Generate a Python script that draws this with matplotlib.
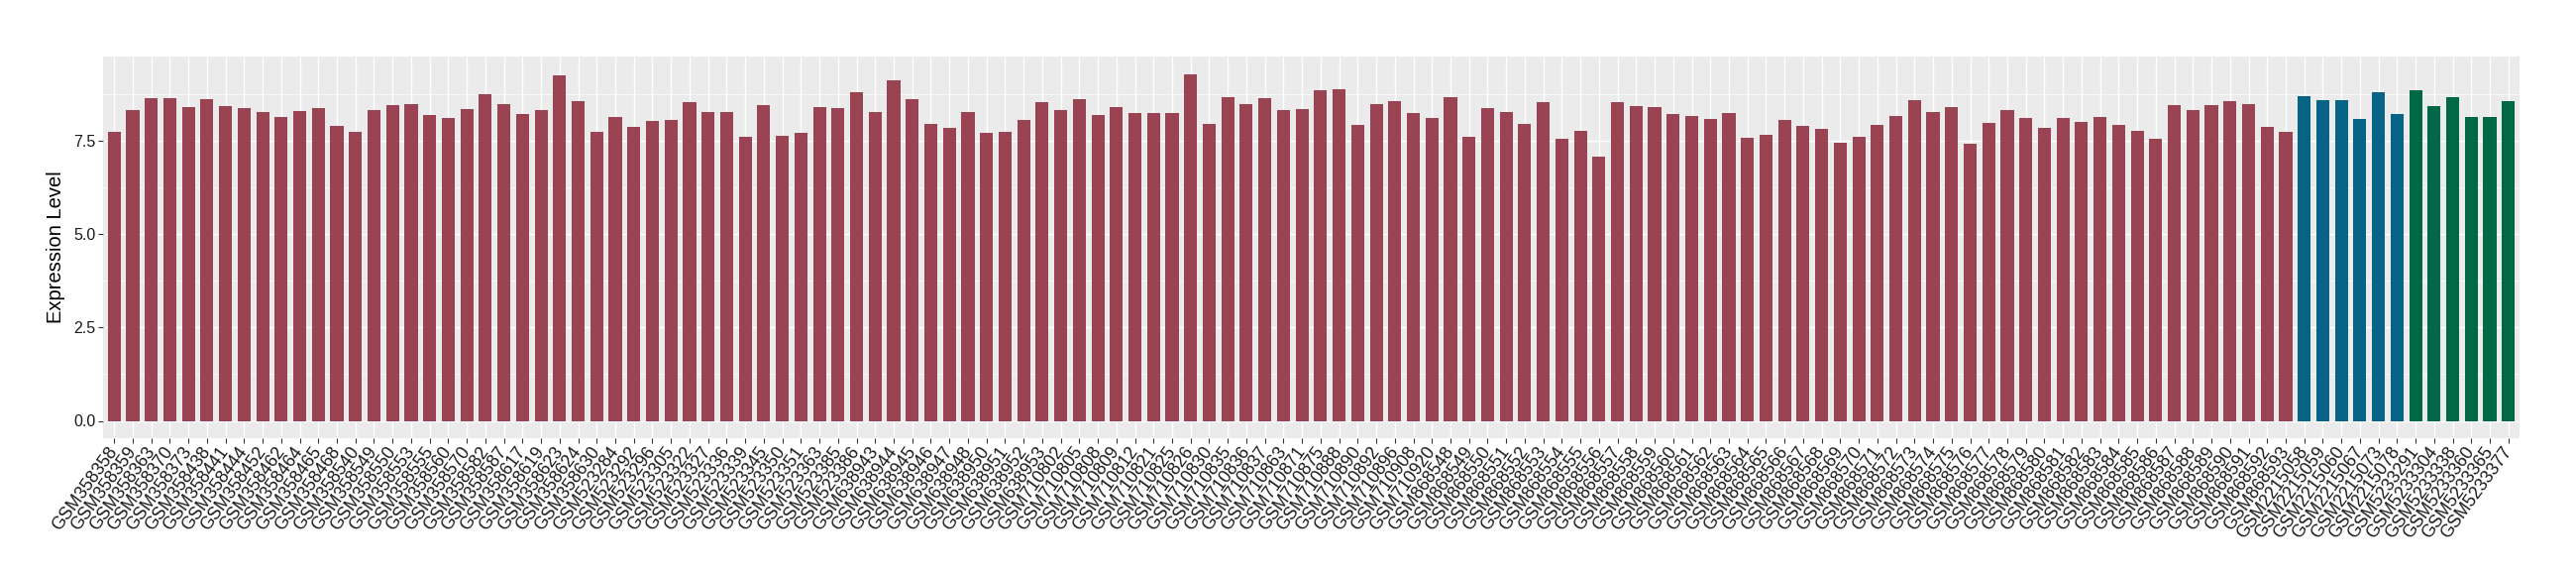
import matplotlib
matplotlib.use('Agg')
import matplotlib.pyplot as plt
import numpy as np

# sample ids per series
ids_358 = ['358358', '358359', '358363', '358370', '358373', '358438', '358441', '358444',
           '358452', '358462', '358464', '358465', '358468', '358540', '358549', '358550',
           '358553', '358555', '358560', '358570', '358582', '358587', '358617', '358619',
           '358623', '358624', '358630']
ids_523 = ['523284', '523292', '523296', '523305', '523322', '523327', '523336', '523339',
           '523345', '523350', '523351', '523363', '523385', '523386']
ids_638 = ['638943', '638944', '638945', '638946', '638947', '638948', '638950', '638951',
           '638952', '638953']
ids_710 = ['710802', '710805', '710808', '710809', '710812', '710821', '710825', '710826',
           '710830', '710835', '710836', '710837', '710863', '710871', '710875', '710888',
           '710890', '710892', '710896', '710908', '710920']
ids_868 = [str(k) for k in range(868548, 868594)]
ids_blue = ['2215058', '2215059', '2215060', '2215067', '2215073', '2215078']
ids_green = ['5233291', '5233304', '5233338', '5233360', '5233365', '5233377']

red_labels = ['GSM' + s for s in ids_358 + ids_523 + ids_638 + ids_710 + ids_868]
blue_labels = ['GSM' + s for s in ids_blue]
green_labels = ['GSM' + s for s in ids_green]

red_values = [7.74, 8.33, 8.65, 8.65, 8.42, 8.62, 8.43, 8.38, 8.28, 8.14, 8.30, 8.38,
              7.90, 7.75, 8.33, 8.45, 8.48, 8.20, 8.12, 8.35, 8.75, 8.48, 8.22, 8.32,
              9.25, 8.58, 7.75,
              8.15, 7.88, 8.03, 8.07, 8.53, 8.27, 8.28, 7.62, 8.47, 7.65, 7.73, 8.42,
              8.38, 8.80,
              8.27, 9.13, 8.63, 7.97, 7.85, 8.28, 7.72, 7.74, 8.07, 8.53,
              8.32, 8.62, 8.20, 8.42, 8.25, 8.25, 8.25, 9.30, 7.97, 8.67, 8.50, 8.65,
              8.33, 8.35, 8.87, 8.90, 7.93, 8.50, 8.57, 8.25, 8.12,
              8.68, 7.62, 8.38, 8.27, 7.97, 8.53, 7.57, 7.77, 7.08, 8.53, 8.43, 8.40,
              8.22, 8.17, 8.10, 8.25, 7.58, 7.67, 8.07, 7.90, 7.83, 7.45, 7.60, 7.93,
              8.18, 8.60, 8.27, 8.40, 7.43, 7.98, 8.33, 8.12, 7.85, 8.12, 8.02, 8.15,
              7.93, 7.77, 7.55, 8.45, 8.33, 8.47, 8.57, 8.50, 7.88, 7.75]
blue_values = [8.69, 8.60, 8.60, 8.09, 8.81, 8.23]
green_values = [8.87, 8.43, 8.68, 8.14, 8.14, 8.58]

red = '#9A4352'
blue = '#086487'
green = '#006846'

labels = red_labels + blue_labels + green_labels
values = red_values + blue_values + green_values
colors = [red] * len(red_values) + [blue] * len(blue_values) + [green] * len(green_values)
n = len(values)
x = np.arange(n)

plt.rcParams['font.family'] = ['Liberation Sans', 'DejaVu Sans']

fig = plt.figure(figsize=(26, 5.8), dpi=100)
ax = fig.add_axes([104 / 2600, 1 - 442 / 580, (2543 - 104) / 2600, (442 - 57) / 580])
ax.set_facecolor('#EBEBEB')

ax.bar(x, values, width=0.7, color=colors, zorder=3)

vmax = max(values)
ax.set_xlim(-0.6, n - 1 + 0.6)
ax.set_ylim(-0.05 * vmax, 1.05 * vmax)

ax.set_yticks([0, 2.5, 5.0, 7.5])
ax.set_yticklabels(['0.0', '2.5', '5.0', '7.5'])
ax.set_yticks([1.25, 3.75, 6.25, 8.75], minor=True)
ax.set_xticks(x)
ax.set_xticklabels(labels, rotation=54, ha='right', va='center', rotation_mode='anchor')

ax.grid(True, which='major', color='white', linewidth=1.0, zorder=0)
ax.grid(True, which='minor', axis='y', color='white', linewidth=0.5, zorder=0)
ax.tick_params(axis='both', which='major', length=3.5, width=0.8, color='#333333',
               labelcolor='#1a1a1a', pad=2)
ax.tick_params(axis='x', labelsize=12.8, pad=4)
ax.tick_params(axis='y', labelsize=11.5)
ax.tick_params(axis='both', which='minor', length=0)
for s in ax.spines.values():
    s.set_visible(False)

ax.set_ylabel('Expression Level', fontsize=14.5, labelpad=6)

fig.savefig('out.png', dpi=100)
